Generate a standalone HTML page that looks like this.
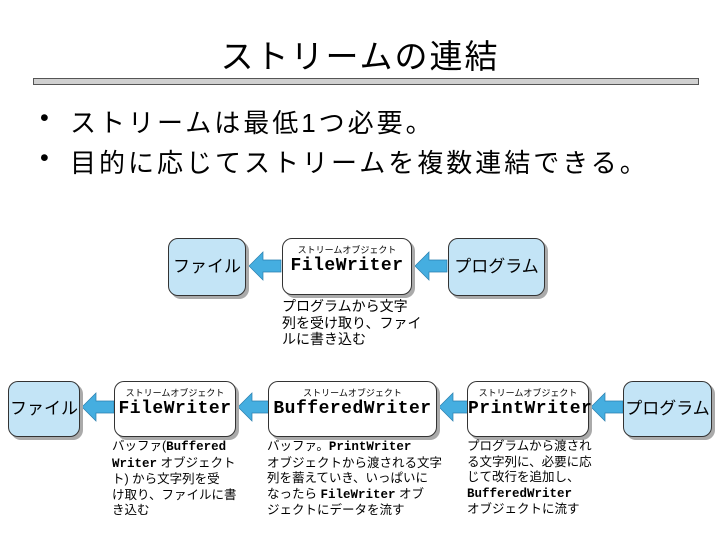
<!DOCTYPE html>
<html><head><meta charset="utf-8"><style>
body{margin:0;width:720px;height:540px;background:#fff;position:relative;overflow:hidden;font-family:"Liberation Sans","Noto Sans CJK JP",sans-serif;color:#000}
.a{position:absolute;white-space:nowrap}
.box{position:absolute;border:1.5px solid #333;border-radius:10px;box-sizing:border-box;box-shadow:3px 3px 0 #aaa;background:#fff;text-align:center}
.blue{background:#c3e4f6}
.lab{font-size:9px;margin-top:6px;line-height:11px}
.mono{font-family:"Liberation Mono","Noto Sans CJK JP",monospace;font-weight:bold;font-size:18px;line-height:20px;letter-spacing:0.5px}
.big{font-size:17px}
.desc{position:absolute;font-size:12.5px;line-height:15.5px;white-space:nowrap}
.desc b{font-family:"Liberation Mono",monospace}
</style></head><body>
<div class="a" style="left:0;width:720px;text-align:center;top:30px;font-size:33px;letter-spacing:2px">ストリームの連結</div>
<div class="a" style="left:33px;top:78px;width:664px;height:5px;background:#d0d0d0;border:1px solid #555"></div>
<div class="a" style="left:40px;top:104px;font-size:25px">•</div>
<div class="a" style="left:70px;top:103px;font-size:26px;letter-spacing:3px">ストリームは最低1つ必要。</div>
<div class="a" style="left:40px;top:144px;font-size:25px">•</div>
<div class="a" style="left:70px;top:143px;font-size:26px;letter-spacing:3px">目的に応じてストリームを複数連結できる。</div>

<svg width="720" height="540" style="position:absolute;left:0;top:0">
<defs><g id="ar"><polygon points="0,0 14,-14 14,-6 32,-6 32,6 14,6 14,14" fill="#45aee0" stroke="#2a7fae" stroke-width="0.7"/></g></defs>
<use href="#ar" x="249" y="266"/>
<use href="#ar" x="415" y="266"/>
<use href="#ar" x="82" y="407"/>
<use href="#ar" x="238" y="407"/>
<use href="#ar" x="439" y="407"/>
<use href="#ar" x="591" y="407"/>
</svg>

<div class="box blue" style="left:168px;top:238px;width:78px;height:58px;line-height:55px"><span class="big">ファイル</span></div>
<div class="box" style="left:282px;top:238px;width:130px;height:57px"><div class="lab">ストリームオブジェクト</div><div class="mono">FileWriter</div></div>
<div class="box blue" style="left:448px;top:238px;width:97px;height:58px;line-height:55px"><span class="big">プログラム</span></div>
<div class="desc" style="left:282px;top:298px;font-size:14px;line-height:16.5px">プログラムから文字<br>列を受け取り、ファイ<br>ルに書き込む</div>

<div class="box blue" style="left:8px;top:381px;width:72px;height:56px;line-height:53px"><span class="big">ファイル</span></div>
<div class="box" style="left:114px;top:381px;width:122px;height:56px"><div class="lab">ストリームオブジェクト</div><div class="mono">FileWriter</div></div>
<div class="box" style="left:268px;top:381px;width:169px;height:56px"><div class="lab">ストリームオブジェクト</div><div class="mono">BufferedWriter</div></div>
<div class="box" style="left:467px;top:381px;width:122px;height:56px"><div class="lab">ストリームオブジェクト</div><div class="mono">PrintWriter</div></div>
<div class="box blue" style="left:623px;top:381px;width:89px;height:56px;line-height:53px"><span class="big">プログラム</span></div>

<div class="desc" style="left:112px;top:439px">バッファ(<b>Buffered</b><br><b>Writer</b> オブジェクト<br>ト) から文字列を受<br>け取り、ファイルに書<br>き込む</div>
<div class="desc" style="left:267px;top:439px">バッファ。<b>PrintWriter</b><br>オブジェクトから渡される文字<br>列を蓄えていき、いっぱいに<br>なったら <b>FileWriter</b> オブ<br>ジェクトにデータを流す</div>
<div class="desc" style="left:467px;top:439px">プログラムから渡され<br>る文字列に、必要に応<br>じて改行を追加し、<br><b>BufferedWriter</b><br>オブジェクトに流す</div>
</body></html>
